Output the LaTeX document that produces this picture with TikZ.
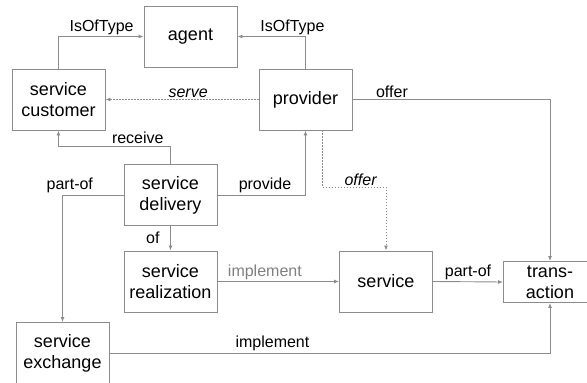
\documentclass[tikz,border=0pt]{standalone}
\usepackage{fontspec}
\setmainfont{Liberation Sans}
\usepackage{tikz}
\usetikzlibrary{arrows.meta}

\tikzset{
  box/.style={draw=gray!90, line width=0.9pt, minimum width=93pt, minimum height=61pt,
    align=center, inner sep=0pt, font=\fontsize{18}{21}\selectfont},
  rel/.style={draw=gray!90, line width=0.9pt, -{Latex[length=5pt,width=4pt]}},
  lbl/.style={font=\fontsize{16}{18}\selectfont, inner sep=1.5pt},
  dotline/.style={dash pattern=on 1.5pt off 1.5pt}
}

\begin{document}
\begin{tikzpicture}[x=1pt, y=-1pt]
            \useasboundingbox (0,0) rectangle (587,383);

            \node[box] (agent) at (190.5,36.5) {agent};
            \node[box] (cust)  at (58.5,99.5) {service\\customer};
            \node[box] (prov)  at (305.5,99.5) {provider};
            \node[box] (deliv) at (170.5,195) {service\\delivery};
            \node[box] (real)  at (170.5,281.5) {service\\realization};
            \node[box] (exch)  at (62.5,353) {service\\exchange};
            \node[box] (serv)  at (386,281.5) {service};
            \node[box, minimum height=41pt] (trans) at (550,282) {trans-\\action};

            % agent types
            \draw[rel] (cust.north) |- (agent.west) node[lbl, pos=1, anchor=south east, xshift=-8pt] {IsOfType};
            \draw[rel] (prov.north) |- (agent.east) node[lbl, pos=0.5, above, xshift=-13pt] {IsOfType};

            % provider relations
            \draw[rel, dotline] (prov.west) -- (cust.east) node[lbl, pos=0.46, above] {\itshape serve};
            \draw[rel] (prov.east) -| (trans.north) node[lbl, pos=0.1, above] {offer};
            \draw[rel, dotline] ([xshift=17pt]prov.south) -- ++(0,57) -| (serv.north)
                node[lbl, pos=0.3, above] {\itshape offer};

            % delivery relations
            \draw[rel] (deliv.north) -- ++(0,-18) -| (cust.south) node[lbl, pos=0.146, above] {receive};
            \draw[rel] (deliv.east) -| (prov.south) node[lbl, pos=0.27, above] {provide};
            \draw[rel] (deliv.west) -| (exch.north) node[lbl, pos=0.44, above] {part-of};
            \draw[rel] (deliv.south) -- (real.north) node[lbl, midway, left, xshift=-9pt] {of};

            % service level
            \draw[rel] (real.east) -- (serv.west) node[lbl, pos=0.39, above, text=gray] {implement};
            \draw[rel] (serv.east) -- (trans.west) node[lbl, midway, above] {part-of};
            \draw[rel] (exch.east) -| (trans.south) node[lbl, pos=0.185, above] {implement};
        \end{tikzpicture}
\end{document}
